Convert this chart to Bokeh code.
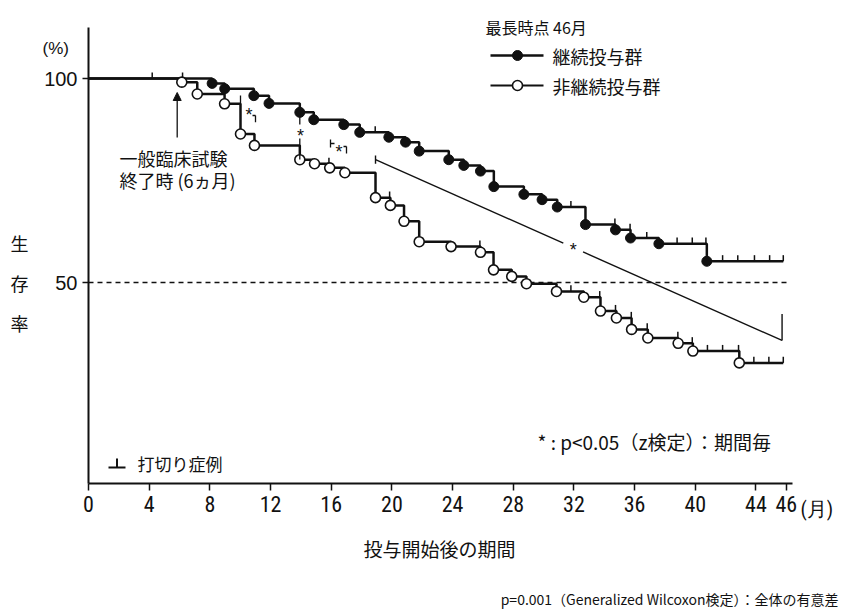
from bokeh.plotting import figure
from bokeh.models import Range1d, FixedTicker, Label, Arrow, NormalHead
from bokeh.embed import file_html
from bokeh.resources import INLINE

# ---------------- data ----------------
x_ticks = [0, 4, 8, 12, 16, 20, 24, 28, 32, 36, 40, 44, 46]
x_tick_labels = ["0", "4", "8", "12", "16", "20", "24", "28", "32", "36", "40", "44", "46"]
y_ticks = [50, 100]
y_tick_labels = ["50", "100"]

# 継続投与群 (continued) : event times (months) and survival (%)
cont_time = [8.15, 8.98, 10.9, 11.9, 13.93, 14.85, 16.83, 17.88, 19.8, 20.9, 21.8,
             23.75, 24.74, 25.84, 26.72, 28.7, 29.9, 30.9, 32.76, 34.74, 35.73, 37.6, 40.76]
cont_surv = [98.8, 97.5, 95.8, 93.9, 91.7, 89.9, 88.7, 86.8, 85.6, 84.4, 82.2,
             80.1, 78.7, 77.3, 73.5, 71.6, 70.3, 68.5, 64.2, 62.9, 60.9, 59.5, 55.2]
cont_censor = [4.2, 6.2, 18.9, 31.8, 34.7, 35.7, 36.8, 38.8, 39.8, 40.7,
               41.8, 42.8, 43.9, 44.9, 45.8]

# 非継続投与群 (discontinued)
non_time = [6.15, 7.17, 8.97, 10.02, 10.94, 13.93, 14.9, 15.9, 16.9, 18.92, 19.9, 20.8,
            21.8, 23.9, 25.84, 26.7, 27.9, 28.87, 30.85, 32.65, 33.75, 34.8, 35.8,
            36.87, 38.87, 39.84, 42.9]
non_surv = [99.1, 96.2, 93.8, 86.4, 83.6, 80.1, 79.1, 78.1, 76.9, 70.8, 68.9, 65.0,
            60.0, 58.8, 57.4, 53.1, 51.5, 49.7, 47.8, 46.4, 43.0, 41.3, 38.5,
            36.4, 35.1, 33.2, 30.3]
non_censor = [15.85, 19.85, 25.8, 31.8, 33.7, 34.74, 35.78, 36.83, 38.85, 39.8,
              40.8, 41.8, 42.85, 43.86, 44.85, 45.8]

follow_end = 45.8
ref_level = 50
ref_end = 46.1

# significance bracket (19 -> 46 months)
sig_x = [18.92, 45.72]
sig_y = [80.1, 35.8]
sig_star_x = 31.95
sig_gap = 0.65

x_axis_span = (0, 46.4)
y_axis_span = (0.74, 112.5)

CJK = "Noto Sans CJK JP"
LAT = "Liberation Sans"
NARROW = "'Liberation Sans Narrow', 'Roboto Condensed', 'DejaVu Sans Condensed', sans-serif"
INK = "#111111"

# picture pixel -> data helpers (0 month at 88px, 15.17 px/month; 100% at 78px, 4.08 px/%)
def X(px):
    return (px - 88) / 15.17

def Y(py):
    return 100 - (py - 78) / 4.08

def level_at(times, survs, m):
    lvl = 100.0
    for t, s in zip(times, survs):
        if t <= m:
            lvl = s
    return lvl

W, H = 840, 609
p = figure(width=W, height=H, output_backend="svg", toolbar_location=None,
           x_range=Range1d(X(0), X(W)), y_range=Range1d(Y(H), Y(0)),
           min_border_left=0, min_border_right=0, min_border_top=0, min_border_bottom=0)
p.xgrid.visible = False
p.ygrid.visible = False
p.outline_line_color = None
p.background_fill_color = "white"
p.border_fill_color = "white"

# axes (library axes, fixed inside the canvas)
xa = p.xaxis[0]
xa.fixed_location = y_axis_span[0]
xa.bounds = x_axis_span
xa.ticker = FixedTicker(ticks=x_ticks)
xa.major_label_overrides = {t: l for t, l in zip(x_ticks, x_tick_labels)}
xa.minor_tick_line_color = None
xa.major_tick_out = 7
xa.major_tick_in = 0
xa.axis_line_width = 2
xa.axis_line_color = INK
xa.major_tick_line_width = 1.5
xa.major_tick_line_color = INK
xa.major_label_text_font = NARROW
xa.major_label_text_font_size = "22px"
xa.major_label_text_color = INK
xa.major_label_standoff = 6

ya = p.yaxis[0]
ya.fixed_location = x_axis_span[0]
ya.bounds = y_axis_span
ya.ticker = FixedTicker(ticks=y_ticks)
ya.major_label_overrides = {t: l for t, l in zip(y_ticks, y_tick_labels)}
ya.minor_tick_line_color = None
ya.major_tick_out = 6
ya.major_tick_in = 0
ya.axis_line_width = 2
ya.axis_line_color = INK
ya.major_tick_line_width = 1.5
ya.major_tick_line_color = INK
ya.major_label_text_font = LAT
ya.major_label_text_font_size = "20px"
ya.major_label_text_color = INK
ya.major_label_standoff = 5

# reference 50% line
p.line([0, ref_end], [ref_level, ref_level], line_color=INK, line_width=1.3, line_dash="5 4")

# survival curves
for times, survs in [(cont_time, cont_surv), (non_time, non_surv)]:
    xs = [0] + times + [follow_end]
    ys = [100] + survs + [survs[-1]]
    p.step(xs, ys, mode="after", line_color=INK, line_width=2.5)

# censor ticks
for times, survs, cens in [(cont_time, cont_surv, cont_censor), (non_time, non_surv, non_censor)]:
    lv = [level_at(times, survs, m) for m in cens]
    p.segment(x0=cens, y0=lv, x1=cens, y1=[v + 1.5 for v in lv], line_color=INK, line_width=1.5)

# event markers
p.scatter(cont_time, cont_surv, size=10, fill_color=INK, line_color=INK, line_width=1)
p.scatter(non_time, non_surv, size=10, fill_color="white", line_color=INK, line_width=1.6)

# significance bracket 19-46 months
slope = (sig_y[1] - sig_y[0]) / (sig_x[1] - sig_x[0])
g0 = sig_star_x - sig_gap
g1 = sig_star_x + sig_gap
p.line([sig_x[0], g0], [sig_y[0], sig_y[0] + slope * (g0 - sig_x[0])], line_color=INK, line_width=1.4)
p.line([g1, sig_x[1]], [sig_y[0] + slope * (g1 - sig_x[0]), sig_y[1]], line_color=INK, line_width=1.4)
p.segment(x0=[sig_x[0], sig_x[1]], y0=[sig_y[0] - 1.0, sig_y[1]],
          x1=[sig_x[0], sig_x[1]], y1=[sig_y[0] + 1.0, sig_y[1] + 6.5], line_color=INK, line_width=1.4)
p.add_layout(Label(x=sig_star_x, y=sig_y[0] + slope * (sig_star_x - sig_x[0]) - 0.6, text="*",
                   text_font=LAT, text_font_size="18px", text_align="center",
                   text_baseline="middle", text_color=INK))

# short-interval significance marks
p.segment(x0=[X(240), X(255), X(252)], y0=[Y(103.3), Y(115), Y(115)],
          x1=[X(240), X(255), X(255)], y1=[Y(95), Y(121.7), Y(115)], line_color=INK, line_width=1.3)
p.segment(x0=[X(299.3), X(299.3)], y0=[Y(113), Y(138)], x1=[X(299.3), X(299.3)], y1=[Y(124), Y(159)],
          line_color=INK, line_width=1.3)
p.segment(x0=[X(330), X(330), X(346), X(343)], y0=[Y(139), Y(143), Y(146), Y(146)],
          x1=[X(330), X(334), X(346), X(346)], y1=[Y(147), Y(143), Y(153), Y(146)],
          line_color=INK, line_width=1.3)
for sx, sy in [(248.5, 114), (300, 135), (338.5, 151)]:
    p.add_layout(Label(x=X(sx), y=Y(sy), text="*", text_font=LAT, text_font_size="18px",
                       text_align="center", text_baseline="middle", text_color=INK))

# arrow to 6-month mark
p.add_layout(Arrow(end=NormalHead(size=8, fill_color=INK, line_color=INK, line_width=1),
                   x_start=X(176.7), y_start=Y(137), x_end=X(176.7), y_end=Y(92),
                   line_color=INK, line_width=1.3))

def lab(text, px, py, size, align="left", font=CJK):
    p.add_layout(Label(x=X(px), y=Y(py), text=text, text_font=font,
                       text_font_size=f"{size}px", text_align=align,
                       text_baseline="middle", text_color=INK))

lab("一般臨床試験", 119, 157, 18)
lab("終了時 (6ヵ月)", 119, 179, 18)

# legend (top right)
lab("最長時点 46月", 485, 26, 16)
p.line([X(490), X(543)], [Y(55), Y(55)], line_color=INK, line_width=2.5)
p.scatter([X(517)], [Y(55)], size=10, fill_color=INK, line_color=INK)
lab("継続投与群", 552, 55, 18)
p.line([X(490), X(543)], [Y(85), Y(85)], line_color=INK, line_width=2)
p.scatter([X(517)], [Y(85)], size=10, fill_color="white", line_color=INK, line_width=1.6)
lab("非継続投与群", 552, 85, 18)

# censor legend
p.segment(x0=[X(108), X(116.5)], y0=[Y(467), Y(467)], x1=[X(125), X(116.5)], y1=[Y(467), Y(458)],
          line_color=INK, line_width=2)
lab("打切り症例", 137, 463, 17)

lab("* : p<0.05（z検定）：期間毎", 537, 441, 19)

# axis texts
lab("(%)", 42, 48, 17, font=LAT)
for ch, yy in [("生", 242), ("存", 282), ("率", 322)]:
    lab(ch, 19, yy, 18, align="center")
lab("(月)", 800, 508, 20, font=NARROW)
lab("投与開始後の期間", 439, 548, 19, align="center")
lab("p=0.001（Generalized Wilcoxon検定）：全体の有意差", 838, 598, 14, align="right")

open("out.html", "w").write(file_html(p, INLINE))
